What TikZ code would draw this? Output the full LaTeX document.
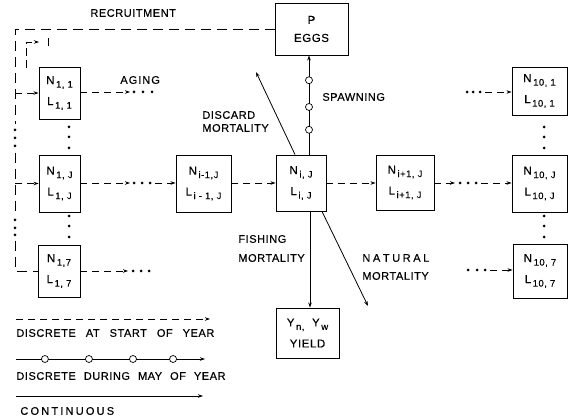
\documentclass[tikz,border=0pt]{standalone}
\usepackage{fontspec}
\setmainfont{Liberation Sans}[LetterSpace=5, FakeBold=0.4]
\usetikzlibrary{arrows.meta,calc}
\newcommand\lsub[1]{\raisebox{-3.5pt}{\fontsize{9.5}{9.5}\selectfont\,#1}}
\newcommand\wsp[1]{\hspace{#1}}
\begin{document}
\begin{tikzpicture}[x=1pt,y=-1pt, line width=0.8pt,
 box/.style={draw, line width=0.9pt, inner sep=0pt, align=center, font=\fontsize{11.5}{21}\selectfont},
 lbl/.style={font=\fontsize{11}{13}\selectfont, align=left, inner sep=0pt},
 dsh/.style={dash pattern=on 7pt off 5pt},
 ldsh/.style={dash pattern=on 10pt off 6pt},
 tip/.style={-{Stealth[length=5pt,width=3.5pt]}},
 dotc/.style={circle, fill, inner sep=0pt, minimum size=3pt},
 ring/.style={circle, draw, fill=white, inner sep=0pt, minimum size=7pt, line width=0.7pt}]
\useasboundingbox (0,0) rectangle (572,419);

% boxes
\node[box, minimum width=73pt, minimum height=52pt] (P) at (311.5,29) {P\\[-3pt]EGGS};
\node[box, minimum width=41pt, minimum height=52pt] (n11) at (59.5,93) {N\lsub{1, 1}\\L\lsub{1, 1}};
\node[box, minimum width=41pt, minimum height=57pt] (n1J) at (59.5,183.5) {N\lsub{1, J}\\L\lsub{1, J}};
\node[box, minimum width=42pt, minimum height=52pt] (n17) at (59,271) {N\lsub{1,7}\\L\lsub{1, 7}};
\node[box, minimum width=55pt, minimum height=57pt] (nim) at (203.5,183.5) {N\lsub{i-1,J}\\L\lsub{i - 1, J}};
\node[box, minimum width=50pt, minimum height=56pt] (nij) at (301,183) {N\lsub{i, J}\\L\lsub{i, J}};
\node[box, minimum width=58pt, minimum height=55pt] (nip) at (405,182.5) {N\lsub{i+1, J}\\L\lsub{i+1, J}};
\node[box, minimum width=55pt, minimum height=48pt] (n101) at (539.5,91) {N\lsub{10, 1}\\L\lsub{10, 1}};
\node[box, minimum width=55pt, minimum height=57pt] (n10J) at (539.5,183.5) {N\lsub{10, J}\\L\lsub{10, J}};
\node[box, minimum width=54pt, minimum height=54pt] (n107) at (540,271) {N\lsub{10, 7}\\L\lsub{10, 7}};
\node[box, minimum width=63pt, minimum height=50pt] (Y) at (307.5,333) {Y\lsub{n,}\ \ Y\lsub{w}\\YIELD};

% labels
\node[lbl, anchor=west] (lrec) at (90,13) {RECRUITMENT};
\node[lbl, anchor=west] (lage) at (120,80) {A\wsp{1pt}G\wsp{1pt}I\wsp{1pt}N\wsp{1pt}G};
\node[lbl, anchor=west] (ldis) at (202,121.5) {DISCARD\\MORTALITY};
\node[lbl, anchor=west] (lspw) at (322,97) {SPAWNING};
\node[lbl, anchor=west, font=\fontsize{11}{19}\selectfont] (lfis) at (238,248.5) {FISHING\\MORTALITY};
\node[lbl, anchor=west, font=\fontsize{11}{18}\selectfont] (lnat) at (362,267) {N\wsp{2.6pt}A\wsp{2.6pt}T\wsp{2.6pt}U\wsp{2.6pt}R\wsp{2.6pt}A\wsp{2.6pt}L\\MORTALITY};

% recruitment loop
\coordinate (rc) at (15,29);
\coordinate (ra) at (15,124);
\coordinate (rb) at (15,153);
\coordinate (rd) at (15,212);
\coordinate (re) at (15,241);
\draw[ldsh] (P.west) -- (rc) -- (ra);
\node[dotc] (ld1) at (15,130) {};
\node[dotc] (ld2) at (15,138) {};
\node[dotc] (ld3) at (15,146) {};
\draw[ldsh] (rb) -- (rd);
\node[dotc] (ld4) at (15,220) {};
\node[dotc] (ld5) at (15,228) {};
\node[dotc] (ld6) at (15,235) {};
\draw[ldsh] (re) |- (n17.west);
\draw[dsh,tip] (n11.west -| rc) -- (n11.west);
\draw[dsh,tip] (n1J.west -| rc) -- (n1J.west);
% small hooked arrow
\coordinate (h1) at (26,68);
\coordinate (h2) at (26,42);
\coordinate (h3) at (39,42);
\draw[dash pattern=on 8pt off 4pt,tip] (h1) -- (h2) -- (h3);
\coordinate (t1) at (48,38);
\coordinate (t2) at (48,46);
\draw (t1) -- (t2);

% column dots
\foreach \yy [count=\k] in {127,137,148,216,226,237} {
  \node[dotc] (c1\k) at (69,\yy) {};
  \node[dotc] (c10\k) at (544,\yy) {};
}

% aging row 1
\coordinate (a1) at (130,92);
\draw[dsh,tip] (n11.east |- a1) -- (a1);
\foreach \xx [count=\k] in {134,143,152} \node[dotc] (r1\k) at (\xx,92) {};
% row J
\coordinate (b1) at (130,183);
\coordinate (b2) at (155,183);
\draw[dsh,tip] (n1J.east |- b1) -- (b1);
\foreach \xx [count=\k] in {134,142,150} \node[dotc] (rj\k) at (\xx,183) {};
\draw[dsh,tip] (b2) -- (nim.west |- b2);
\draw[dsh,tip] (nim.east |- b2) -- (nij.west |- b2);
\draw[dsh,tip] (nij.east |- b2) -- (nip.west |- b2);
\coordinate (b3) at (455,183);
\coordinate (b4) at (481,183);
\draw[dsh,tip] (nip.east |- b3) -- (b3);
\foreach \xx [count=\k] in {460,468,476} \node[dotc] (rk\k) at (\xx,183) {};
\draw[dsh,tip] (b4) -- (n10J.west |- b4);
% row 7
\coordinate (s1) at (128,271);
\draw[dsh,tip] (n17.east |- s1) -- (s1);
\foreach \xx [count=\k] in {133,141,149} \node[dotc] (r7\k) at (\xx,271) {};
% right rows
\foreach \xx [count=\k] in {467,473,480} \node[dotc] (q1\k) at (\xx,92) {};
\coordinate (u1) at (485,92);
\draw[dsh,tip] (u1) -- (n101.west |- u1);
\foreach \xx [count=\k] in {468,477,485} \node[dotc] (q7\k) at (\xx,270) {};
\coordinate (u7) at (490,270);
\draw[dsh,tip] (u7) -- (n107.west |- u7);

% spawning
\coordinate (sp) at (309,0);
\draw[tip] (nij.north -| sp) -- (P.south -| sp)
  node[ring, pos=0.25] {} node[ring, pos=0.48] {} node[ring, pos=0.75] {};
% discard
\coordinate (ds) at (295,0);
\coordinate (dm) at (256,72);
\draw[tip] (nij.north -| ds) -- (dm);
% fishing
\coordinate (fx) at (310,0);
\draw[tip] (nij.south -| fx) -- (Y.north -| fx);
% natural
\coordinate (ns) at (322,0);
\coordinate (nm) at (368,306);
\draw[tip] (nij.south -| ns) -- (nm);

% legend
\coordinate (g1) at (16,319); \coordinate (g2) at (210,319);
\draw[dsh,tip] (g1) -- (g2);
\node[lbl, anchor=west] (t1l) at (16,333) {DISCRETE\wsp{10pt}AT\wsp{10pt}START\wsp{10pt}OF\wsp{10pt}YEAR};
\coordinate (g3) at (16,359); \coordinate (g4) at (205,359);
\draw[tip] (g3) -- (g4) node[ring,pos=0.153] {} node[ring,pos=0.386] {} node[ring,pos=0.619] {} node[ring,pos=0.831] {};
\node[lbl, anchor=west] (t2l) at (16,376) {DISCRETE\wsp{8pt}DURING\wsp{8pt}MAY\wsp{8pt}OF\wsp{8pt}YEAR};
\coordinate (g5) at (16,396); \coordinate (g6) at (203,396);
\draw[tip] (g5) -- (g6);
\node[lbl, anchor=west] (t3l) at (20,411) {\addfontfeature{LetterSpace=20}CONTINUOUS};
\end{tikzpicture}
\end{document}
